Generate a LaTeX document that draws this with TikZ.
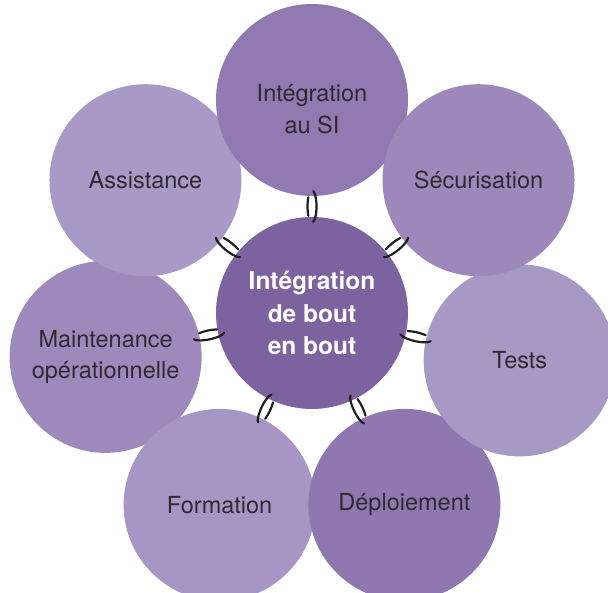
\documentclass[tikz,border=0pt]{standalone}
\usepackage{fontspec}
\setmainfont{TeX Gyre Heros}
\usetikzlibrary{calc}
\definecolor{cCenter}{HTML}{7D62A0}
\definecolor{cTop}{HTML}{9179B1}
\definecolor{cSecu}{HTML}{9D88BC}
\definecolor{cTests}{HTML}{A898C4}
\definecolor{cDepl}{HTML}{8F78B0}
\definecolor{cForm}{HTML}{A795C5}
\definecolor{cMaint}{HTML}{9E89BD}
\definecolor{cAssist}{HTML}{A999C6}
\definecolor{txt}{HTML}{2E2A30}
\begin{document}
\begin{tikzpicture}[x=1pt,y=1pt,
  outer/.style={circle, minimum size=192pt, inner sep=0pt, text=txt,
    font=\fontsize{23.5}{31.5}\selectfont, align=center},
  inner/.style={circle, minimum size=192pt, inner sep=0pt, fill=cCenter, text=white,
    font=\fontsize{24.5}{32.5}\selectfont\bfseries, align=center},
  linkline/.style={line width=2.2pt, draw=black!88, line cap=round},
  chainlink/.pic={
    \draw[linkline] (195:16 and 4.5) arc[start angle=195,end angle=345,x radius=16,y radius=4.5];
    \draw[linkline] (55:16 and 4.5) arc[start angle=55,end angle=125,x radius=16,y radius=4.5];
  }]
\useasboundingbox (0,0) rectangle (608,593);
\coordinate (C) at (312,280);
\node[outer, fill=cMaint] (maint) at ($(C)+(-168:211)$) {Maintenance\\opérationnelle};
\node[outer, fill=cAssist] (assist) at ($(C)+(141.43:213)$) {Assistance};
\node[outer, fill=cForm] (form) at ($(C)+(-115.71:213)$) {Formation};
\node[outer, fill=cDepl] (depl) at ($(C)+(-64.29:213)$) {Déploiement};
\node[outer, fill=cTests] (tests) at ($(C)+(-12.86:213)$) {Tests};
\node[outer, fill=cTop] (top) at ($(C)+(90:213)$) {\raisebox{-17.5pt}[0pt][0pt]{\begin{tabular}{@{}c@{}}Intégration\\au SI\end{tabular}}};
\node[outer, fill=cSecu] (secu) at ($(C)+(38.57:213)$) {Sécurisation};
\node[inner] (center) at (C) {Intégration\\de bout\\en bout};
\pic[rotate=90] at ($(center.center)!0.5!(top.center)$) {chainlink};
\pic[rotate=38.57] at ($(center.center)!0.5!(secu.center)$) {chainlink};
\pic[rotate=-12.86] at ($(center.center)!0.5!(tests.center)$) {chainlink};
\pic[rotate=-64.29] at ($(center.center)!0.5!(depl.center)$) {chainlink};
\pic[rotate=-115.71] at ($(center.center)!0.5!(form.center)$) {chainlink};
\pic[rotate=-168, yscale=-1] at ($(center.center)!0.5!(maint.center)$) {chainlink};
\pic[rotate=141.43, yscale=-1] at ($(center.center)!0.5!(assist.center)$) {chainlink};
\end{tikzpicture}
\end{document}
